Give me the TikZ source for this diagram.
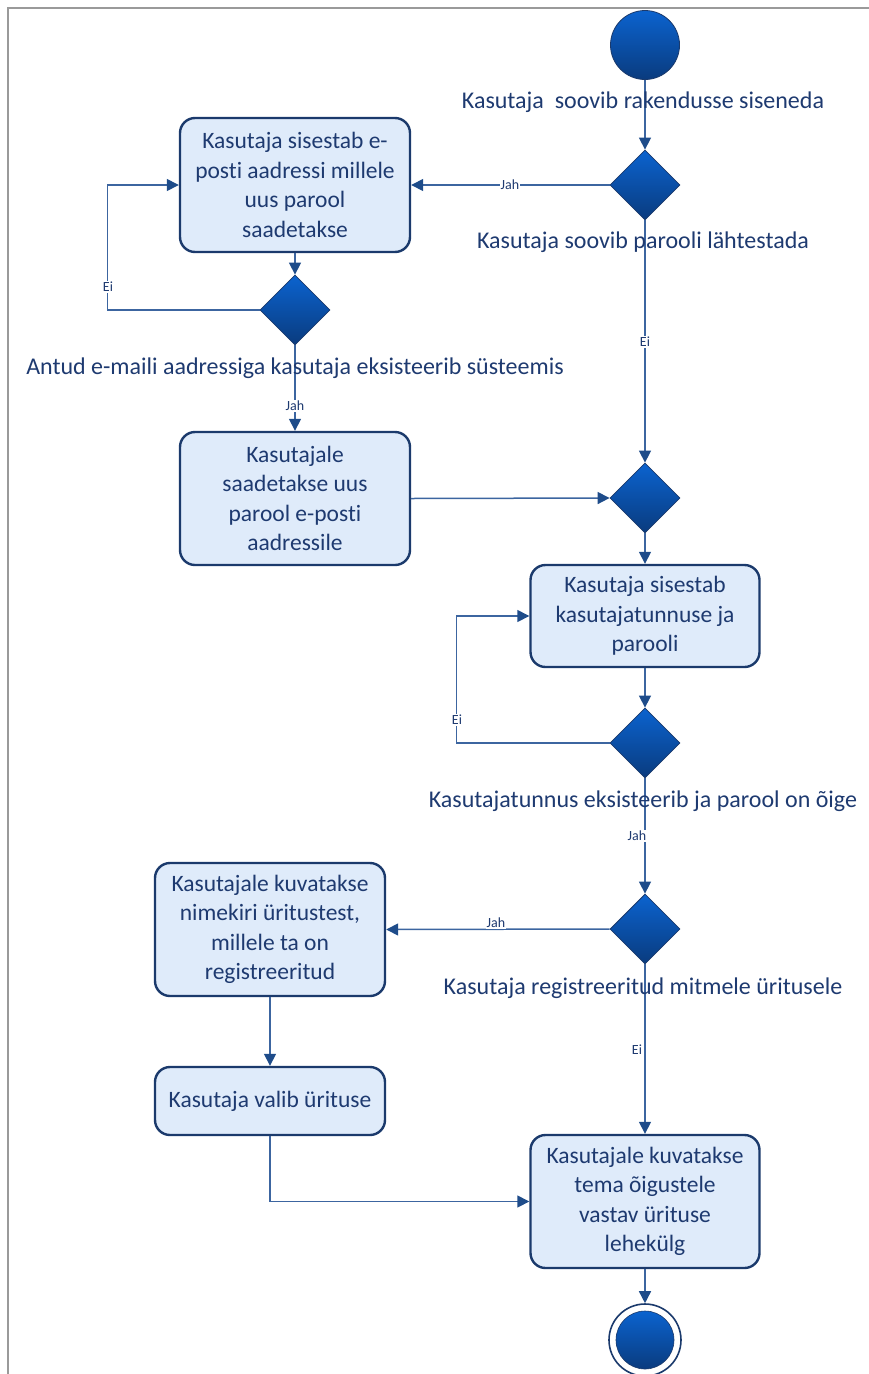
\documentclass[tikz,border=0pt]{standalone}
\usepackage{fontspec}
\setmainfont{Carlito}[Ligatures=NoCommon]
\usetikzlibrary{shapes.geometric,arrows.meta}
\definecolor{boxfill}{HTML}{DFEBFA}
\definecolor{boxline}{HTML}{1B3A6C}
\definecolor{flow}{HTML}{3C65A0}
\definecolor{tip}{HTML}{1E4C8A}
\definecolor{ink}{HTML}{1E3A70}
\definecolor{dtop}{HTML}{0B63CF}
\definecolor{dbot}{HTML}{0A3B7E}
\definecolor{frame}{HTML}{9A9A9A}
\begin{document}
\begin{tikzpicture}[x=1pt,y=-1pt,
  action/.style={draw=boxline,line width=2.4pt,fill=boxfill,rounded corners=15pt,
    text=ink,align=center,inner sep=0pt,minimum width=230pt,
    font=\fontsize{23.5}{29.5}\selectfont},
  choice/.style={diamond,draw=boxline,line width=0.8pt,top color=dtop,bottom color=dbot,
    minimum width=70pt,minimum height=70pt,inner sep=0pt},
  caption/.style={text=ink,font=\fontsize{24}{28}\selectfont,inner sep=0pt},
  guard/.style={fill=white,text=ink,font=\fontsize{14}{16}\selectfont,inner sep=1pt},
  flowline/.style={draw=flow,line width=1.5pt},
  arr/.style={flowline,-{Triangle[length=12pt,width=12pt,color=tip]}}]
\useasboundingbox (0,0) rectangle (869,1374);
% page frame
\draw[frame,line width=1.8pt] (8,1374) -- (8,8) -- (869,8);

% initial and final states
\node[circle,draw=boxline,line width=0.8pt,top color=dtop,bottom color=dbot,
  minimum size=69pt,inner sep=0pt] (start) at (645,45) {};
\node[circle,draw=boxline,line width=1.6pt,fill=white,minimum size=72pt,inner sep=0pt]
  (finish) at (645,1340) {};
\node[circle,draw=boxline,line width=0.6pt,top color=dtop,bottom color=dbot,
  minimum size=58pt,inner sep=0pt] (finishcore) at (645,1340) {};

% decisions
\node[choice] (d1) at (645,185) {};
\node[choice] (d2) at (295,310) {};
\node[choice] (d3) at (645,498) {};
\node[choice] (d4) at (645,743) {};
\node[choice] (d5) at (645,929) {};

% actions
\node[action,minimum height=134pt] (b1) at (295,185)
  {Kasutaja sisestab e-\\posti aadressi millele\\uus parool\\saadetakse};
\node[action,minimum height=133pt] (b2) at (295,498.5)
  {Kasutajale\\saadetakse uus\\parool e-posti\\aadressile};
\node[action,minimum width=229pt,minimum height=102pt] (b3) at (645,616)
  {Kasutaja sisestab\\kasutajatunnuse ja\\parooli};
\node[action,minimum height=133pt] (b4) at (270,929.5)
  {Kasutajale kuvatakse\\nimekiri üritustest,\\millele ta on\\registreeritud};
\node[action,minimum height=68pt] (b5) at (270,1101)
  {Kasutaja valib ürituse};
\node[action,minimum width=229pt,minimum height=133pt] (b6) at (645,1201.5)
  {Kasutajale kuvatakse\\tema õigustele\\vastav ürituse\\lehekülg};

% flows
\draw[arr] (start) -- (d1);
\draw[arr] (d1.west) -- (b1.east);
\node[guard] (g1) at (510,185) {Jah};
\draw[arr] (b1) -- (d2);
\draw[arr] (d2.west) -- ++(-152,0) |- (b1.west);
\node[guard] (g2) at (108,287) {Ei};
\draw[arr] (d2) -- (b2);
\node[guard] (g3) at (295,406) {Jah};
\draw[arr] (d1) -- (d3);
\node[guard] (g4) at (645,342) {Ei};
\draw[arr] (b2.east) -- (d3.west);
\draw[arr] (d3) -- (b3);
\draw[arr] (b3) -- (d4);
\draw[arr] (d4.west) -- ++(-153,0) |- (b3.west);
\node[guard] (g5) at (457,720) {Ei};
\draw[arr] (d4) -- (d5);
\node[guard] (g6) at (637,836) {Jah};
\draw[arr] (d5.west) -- (b4.east);
\node[guard] (g7) at (496,923) {Jah};
\draw[arr] (b4) -- (b5);
\draw[arr] (b5.south) |- (b6.west);
\draw[arr] (d5) -- (b6);
\node[guard] (g8) at (637,1050) {Ei};
\draw[arr] (b6) -- (finish);

% decision captions
\node[caption] (c1) at (643,102) {Kasutaja\ \ soovib rakendusse siseneda};
\node[caption] (c2) at (643,242) {Kasutaja soovib parooli lähtestada};
\node[caption] (c3) at (295,368) {Antud e-maili aadressiga kasutaja eksisteerib süsteemis};
\node[caption] (c4) at (643,801) {Kasutajatunnus eksisteerib ja parool on õige};
\node[caption] (c5) at (643,988) {Kasutaja registreeritud mitmele üritusele};
\end{tikzpicture}
\end{document}
